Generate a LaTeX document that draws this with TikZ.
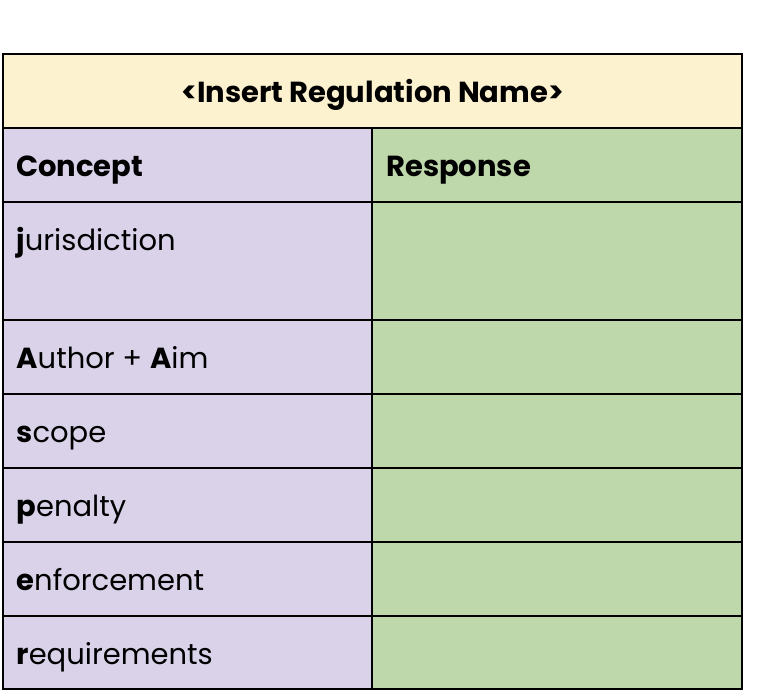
\documentclass[tikz,border=0pt]{standalone}
\usepackage{fontspec}
\setmainfont{Poppins}
\definecolor{headyellow}{HTML}{FDF2D0}
\definecolor{conceptpurple}{HTML}{D9D2E9}
\definecolor{responsegreen}{HTML}{BED7AB}
\tikzset{
  cell/.style={draw=black,line width=0.9pt},
  label/.style={anchor=base west,inner sep=0pt,font=\fontsize{16.5}{18}\selectfont}
}
\begin{document}
\begin{tikzpicture}[x=0.02cm,y=-0.02cm]
  \useasboundingbox (0,0) rectangle (758,700);
  % title row
  \draw[cell,fill=headyellow] (3,54) rectangle (742,128);
  \node[label,anchor=base] (title) at (372.5,102) {\textbf{<Insert Regulation Name>}};
  % body rows
  \foreach \top/\bot in {128/202,202/320,320/394,394/468,468/542,542/616,616/689}{
    \draw[cell,fill=conceptpurple] (3,\top) rectangle (372,\bot);
    \draw[cell,fill=responsegreen] (372,\top) rectangle (742,\bot);
  }
  \node[label] (concept) at (16,176) {\textbf{Concept}};
  \node[label] (response) at (386,176) {\textbf{Response}};
  \node[label] (jur) at (16,250) {\textbf{j}urisdiction};
  \node[label] (aim) at (16,368) {\textbf{A}uthor + \textbf{A}im};
  \node[label] (scope) at (16,442) {\textbf{s}cope};
  \node[label] (pen) at (16,516) {\textbf{p}enalty};
  \node[label] (enf) at (16,590) {\textbf{e}nforcement};
  \node[label] (req) at (16,664) {\textbf{r}equirements};
\end{tikzpicture}
\end{document}
